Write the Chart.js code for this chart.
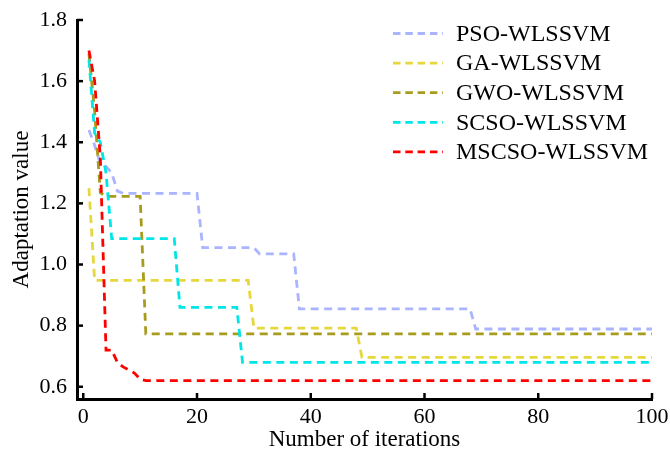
<!DOCTYPE html>
<html>
<head>
<meta charset="utf-8">
<script src="https://cdn.jsdelivr.net/npm/chart.js@4.4.1/dist/chart.umd.min.js"></script>
<style>
  html, body { margin: 0; padding: 0; background: #fff; }
  #wrap { width: 670px; height: 458px; }
</style>
</head>
<body>
<div id="wrap"><canvas id="curvas"></canvas></div>
<script>
// iteration where each curve changes, and the fitness value there (flat in between)
const seriesNames = ['PSO-WLSSVM', 'GA-WLSSVM', 'GWO-WLSSVM', 'SCSO-WLSSVM', 'MSCSO-WLSSVM'];

const psoIter = [1, 2, 3, 4, 5, 6, 7, 20, 21, 30, 31, 37, 38, 68, 69, 100];
const psoVal  = [1.44, 1.39, 1.33, 1.32, 1.30, 1.24, 1.233, 1.233, 1.055, 1.055, 1.035, 1.035, 0.855, 0.855, 0.789, 0.789];

const gaIter = [1, 2, 29, 30, 48, 49, 100];
const gaVal  = [1.25, 0.948, 0.948, 0.792, 0.792, 0.696, 0.696];

const gwoIter = [1, 2, 3, 4, 10, 11, 100];
const gwoVal  = [1.69, 1.50, 1.235, 1.223, 1.223, 0.773, 0.773];

const scsoIter = [1, 2, 3, 4, 5, 16, 17, 27, 28, 100];
const scsoVal  = [1.67, 1.43, 1.40, 1.30, 1.085, 1.085, 0.86, 0.86, 0.68, 0.68];

const mscsoIter = [1, 2, 3, 4, 5, 6, 7, 8, 9, 10, 11, 100];
const mscsoVal  = [1.70, 1.60, 1.35, 0.72, 0.72, 0.68, 0.665, 0.655, 0.645, 0.625, 0.62, 0.62];

const xTicks = [0, 20, 40, 60, 80, 100];
const yTicks = [0.6, 0.8, 1.0, 1.2, 1.4, 1.6, 1.8];

const colores = ['#aab4ff', '#e6d83c', '#a89c1e', '#00e6e6', '#ff0000'];
const iters = [psoIter, gaIter, gwoIter, scsoIter, mscsoIter];
const vals = [psoVal, gaVal, gwoVal, scsoVal, mscsoVal];

const fuente = 'Liberation Serif, Times New Roman, serif';

const datasets = seriesNames.map((nombre, i) => ({
  label: nombre,
  data: iters[i].map((it, k) => ({ x: it, y: vals[i][k] })),
  borderColor: colores[i],
  backgroundColor: colores[i],
  borderWidth: 2.8,
  borderDash: [8, 5.5],
  pointRadius: 0,
  tension: 0,
  fill: false,
  order: seriesNames.length - i  // red drawn last, on top
}));

// ticks pointing into the plot, plus the legend drawn inside the plot area
const extras = {
  id: 'extras',
  afterDraw(chart) {
    const ctx = chart.ctx;
    const xs = chart.scales.x, ys = chart.scales.y;
    const area = chart.chartArea;
    ctx.save();
    ctx.strokeStyle = '#000';
    ctx.lineWidth = 2.5;
    ctx.setLineDash([]);
    xTicks.forEach(v => {
      const px = xs.getPixelForValue(v);
      ctx.beginPath();
      ctx.moveTo(px, area.bottom);
      ctx.lineTo(px, area.bottom - 6);
      ctx.stroke();
    });
    yTicks.forEach(v => {
      const py = ys.getPixelForValue(v);
      ctx.beginPath();
      ctx.moveTo(area.left, py);
      ctx.lineTo(area.left + 6, py);
      ctx.stroke();
    });

    // leyenda
    ctx.font = '24px ' + fuente;
    ctx.textBaseline = 'middle';
    ctx.fillStyle = '#000';
    chart.data.datasets.forEach((ds, i) => {
      const y = 33.5 + i * 29.6;
      ctx.strokeStyle = ds.borderColor;
      ctx.lineWidth = 2.8;
      ctx.setLineDash([7.5, 4.8]);
      ctx.beginPath();
      ctx.moveTo(393, y);
      ctx.lineTo(443, y);
      ctx.stroke();
      ctx.fillText(ds.label, 456, y + 1);
    });
    ctx.restore();
  }
};

new Chart(document.getElementById('curvas'), {
  type: 'line',
  data: { datasets: datasets },
  plugins: [extras],
  options: {
    responsive: true,
    maintainAspectRatio: false,
    animation: false,
    layout: { padding: { top: 20, right: 18, left: 0, bottom: 0 } },
    plugins: {
      legend: { display: false },
      tooltip: { enabled: false }
    },
    scales: {
      x: {
        type: 'linear',
        min: -1.1,
        max: 100,
        afterBuildTicks(scale) { scale.ticks = xTicks.map(v => ({ value: v })); },
        afterFit(scale) { scale.height = 59; scale.paddingRight = 0; scale.paddingLeft = 0; },
        grid: { display: false, drawTicks: false },
        border: { display: true, color: '#000', width: 3 },
        ticks: { color: '#000', font: { family: fuente, size: 22 }, padding: 5, maxRotation: 0 },
        title: { display: true, text: 'Number of iterations', color: '#000', font: { family: fuente, size: 23 }, padding: 4 }
      },
      y: {
        type: 'linear',
        min: 0.56,
        max: 1.8,
        afterBuildTicks(scale) { scale.ticks = yTicks.map(v => ({ value: v })); },
        afterFit(scale) { scale.width = 77; scale.paddingTop = 0; scale.paddingBottom = 0; },
        grid: { display: false, drawTicks: false },
        border: { display: true, color: '#000', width: 3 },
        ticks: { color: '#000', font: { family: fuente, size: 22 }, padding: 10,
                 callback: v => v.toFixed(1) },
        title: { display: true, text: 'Adaptation value', color: '#000', font: { family: fuente, size: 23 }, padding: 8 }
      }
    }
  }
});
</script>
</body>
</html>
